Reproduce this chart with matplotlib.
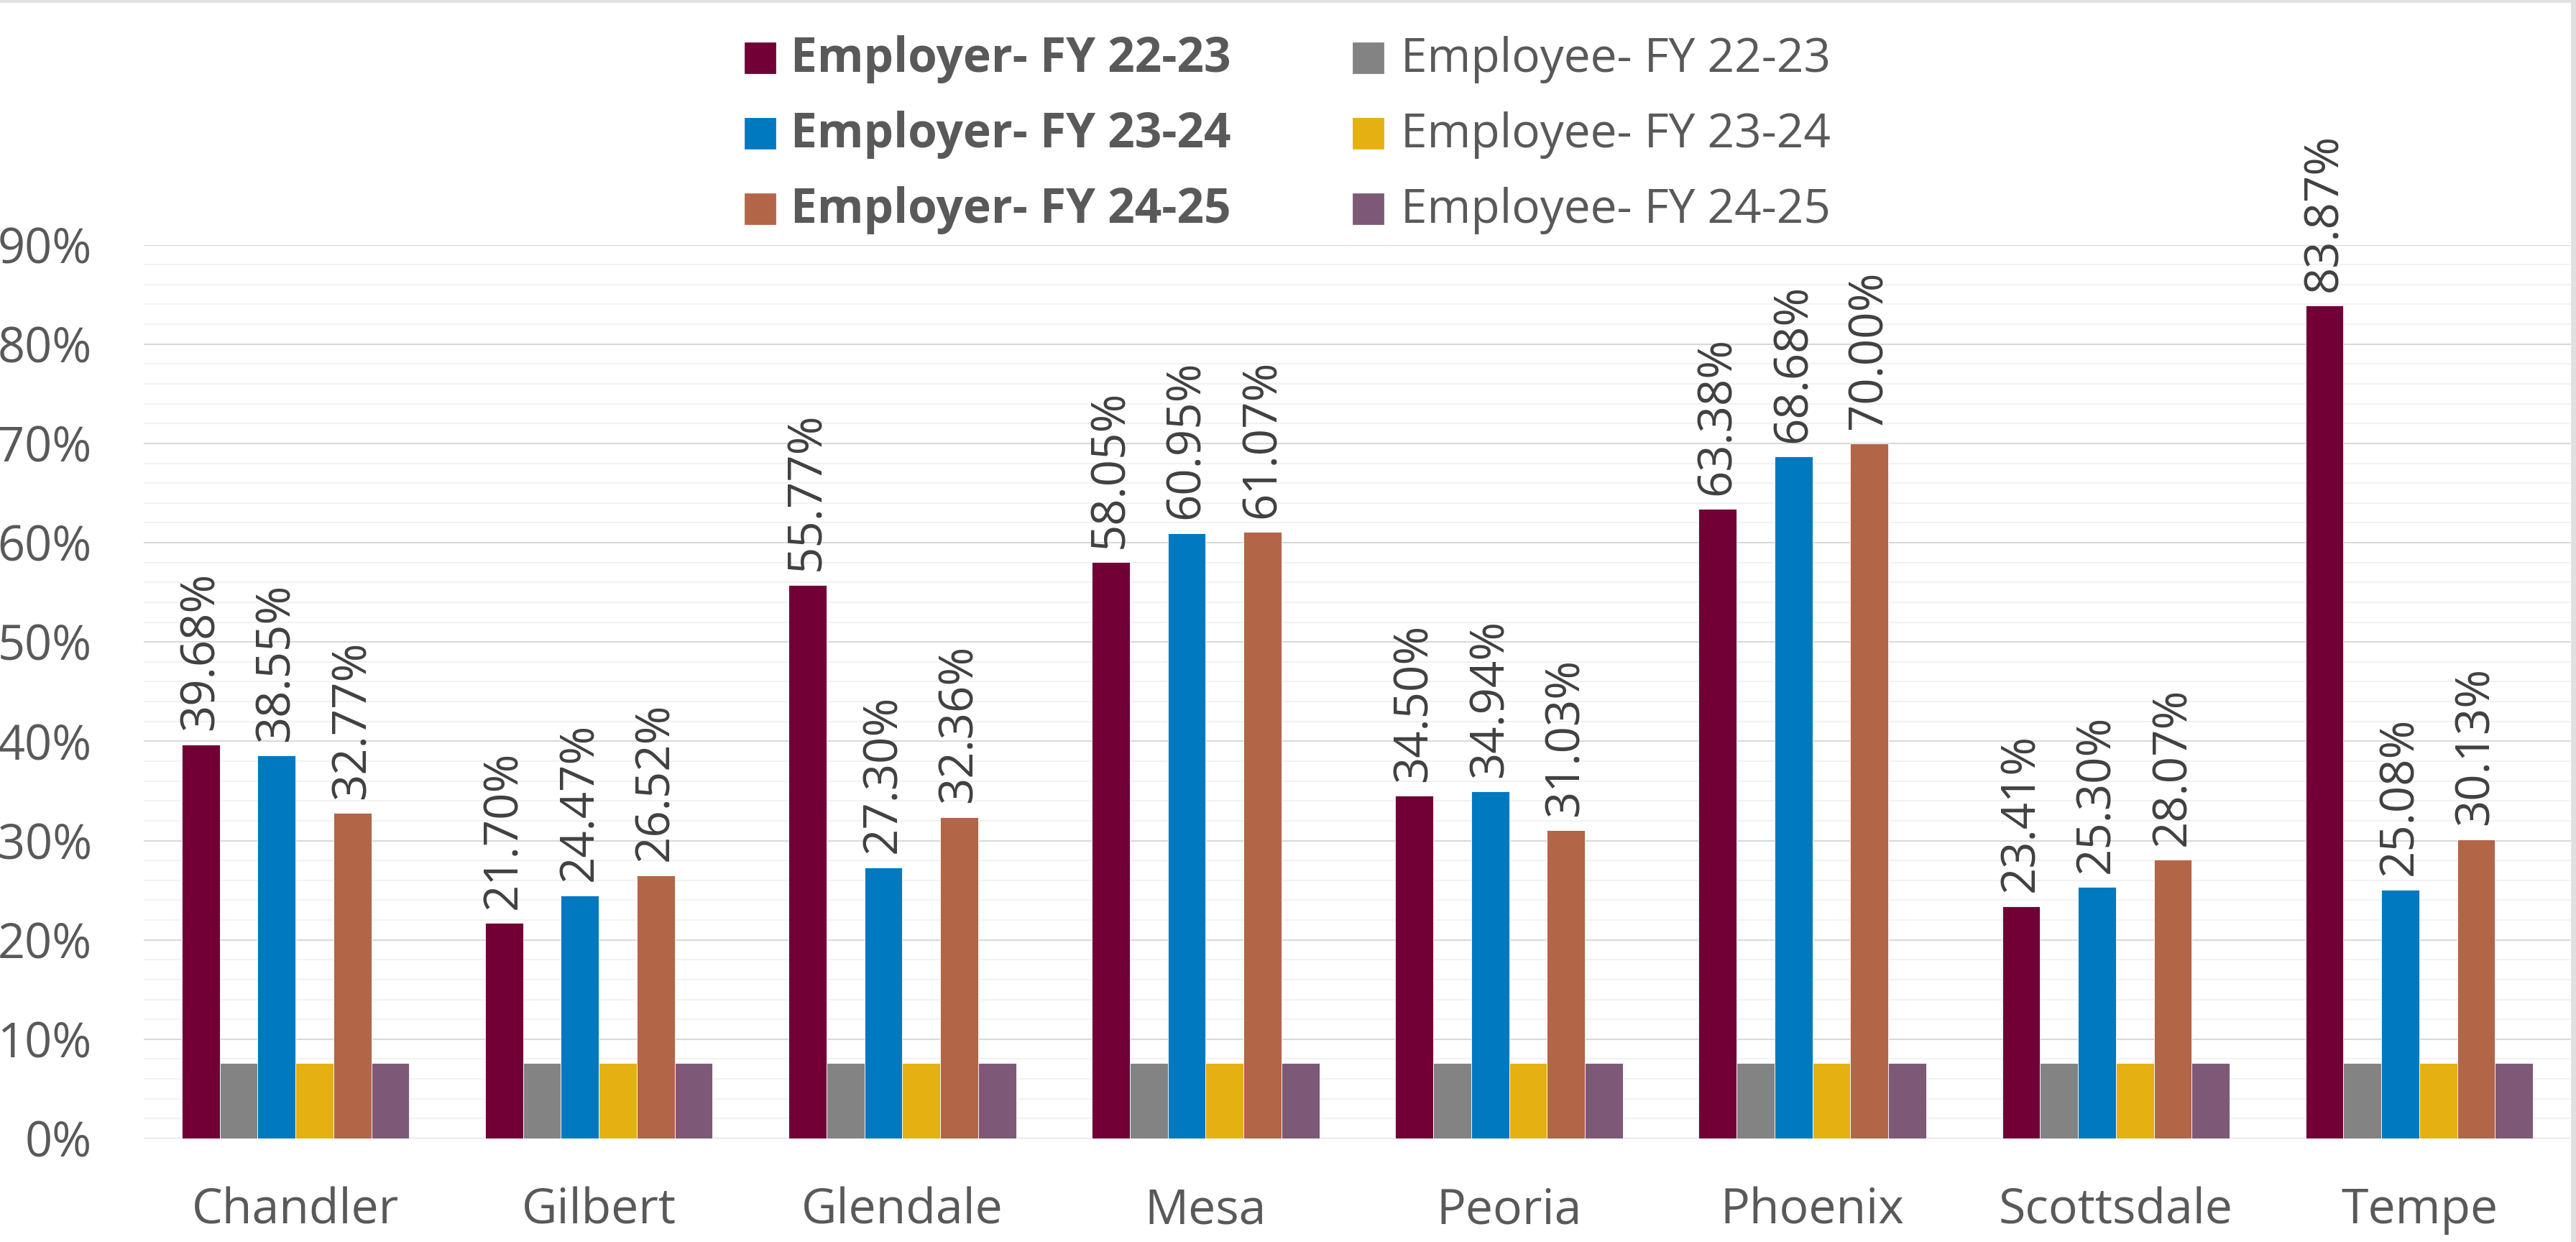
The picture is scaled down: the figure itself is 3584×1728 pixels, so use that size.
import numpy as np
import matplotlib
matplotlib.use("Agg")
import matplotlib.pyplot as plt
from matplotlib.patches import Rectangle
from matplotlib.ticker import MultipleLocator, PercentFormatter

plt.rcParams['font.family'] = ['Open Sans', 'DejaVu Sans']

cities = ["Chandler", "Gilbert", "Glendale", "Mesa", "Peoria", "Phoenix",
          "Scottsdale", "Tempe"]

employer_22_23 = [39.68, 21.70, 55.77, 58.05, 34.50, 63.38, 23.41, 83.87]
employee_22_23 = [7.6, 7.6, 7.6, 7.6, 7.6, 7.6, 7.6, 7.6]
employer_23_24 = [38.55, 24.47, 27.30, 60.95, 34.94, 68.68, 25.30, 25.08]
employee_23_24 = [7.6, 7.6, 7.6, 7.6, 7.6, 7.6, 7.6, 7.6]
employer_24_25 = [32.77, 26.52, 32.36, 61.07, 31.03, 70.00, 28.07, 30.13]
employee_24_25 = [7.6, 7.6, 7.6, 7.6, 7.6, 7.6, 7.6, 7.6]

# order of the bars inside a group
series = [
    ("Employer- FY 22-23", employer_22_23, "#720036", True),
    ("Employee- FY 22-23", employee_22_23, "#838383", False),
    ("Employer- FY 23-24", employer_23_24, "#0079C1", True),
    ("Employee- FY 23-24", employee_23_24, "#E5B011", False),
    ("Employer- FY 24-25", employer_24_25, "#B36548", True),
    ("Employee- FY 24-25", employee_24_25, "#7E5977", False),
]

W, H = 3584, 1728
fig = plt.figure(figsize=(W / 200, H / 200), dpi=200)
ax = fig.add_axes([200 / W, (H - 1584) / H, 3377 / W, (1584 - 340.6) / H])

x = np.arange(len(cities))
bw = 0.125
for j, (name, vals, color, labelled) in enumerate(series):
    bars = ax.bar(x + (j - 2.5) * bw, vals, bw, color=color, label=name,
                  zorder=3, edgecolor="white", linewidth=0.3)
    if labelled:
        for b, v in zip(bars, vals):
            ax.annotate(f"{v:.2f}%", (b.get_x() + b.get_width() / 2, v),
                        xytext=(0, 7), textcoords="offset points",
                        ha="center", va="bottom", rotation=90,
                        fontsize=23.5, color="#404040", annotation_clip=False)

ax.set_xlim(-0.5, 7.5)
ax.set_ylim(0, 90)
ax.yaxis.set_major_locator(MultipleLocator(10))
ax.yaxis.set_minor_locator(MultipleLocator(2))
ax.yaxis.set_major_formatter(PercentFormatter(decimals=0))
ax.grid(which="major", axis="y", color="#d9d9d9", linewidth=0.75, zorder=0)
ax.grid(which="minor", axis="y", color="#f2f2f2", linewidth=0.75, zorder=0)
ax.set_axisbelow(True)
for s in ax.spines.values():
    s.set_visible(False)
ax.set_xticks(x)
ax.set_xticklabels(cities)
ax.tick_params(axis="x", length=0, pad=24, labelsize=24.5, labelcolor="#595959")
ax.tick_params(axis="y", which="both", length=0, pad=26, labelsize=24,
               labelcolor="#595959")

# legend, two columns above the plot
legend_cols = [(1037, 1100, [0, 2, 4]), (1883, 1949, [1, 3, 5])]
baselines = [100, 205, 310]
for mx, tx, idx in legend_cols:
    for base, k in zip(baselines, idx):
        name, vals, color, bold = series[k]
        fig.add_artist(Rectangle((mx / W, 1 - (base + 1) / H), 41 / W, 41 / H,
                                 transform=fig.transFigure, color=color))
        fig.text(tx / W, 1 - base / H, name, ha="left", va="baseline",
                 fontsize=23.7, color="#595959",
                 fontweight="bold" if bold else "normal")

# thin frame at top and right edge
fig.add_artist(Rectangle((0, 1 - 2 / H), 1, 2 / H, transform=fig.transFigure,
                         color="#e0e0e0"))
fig.add_artist(Rectangle((1 - 6 / W, 0), 6 / W, 1, transform=fig.transFigure,
                         color="#e0e0e0"))

fig.savefig("out.png", dpi=200, facecolor="white")
